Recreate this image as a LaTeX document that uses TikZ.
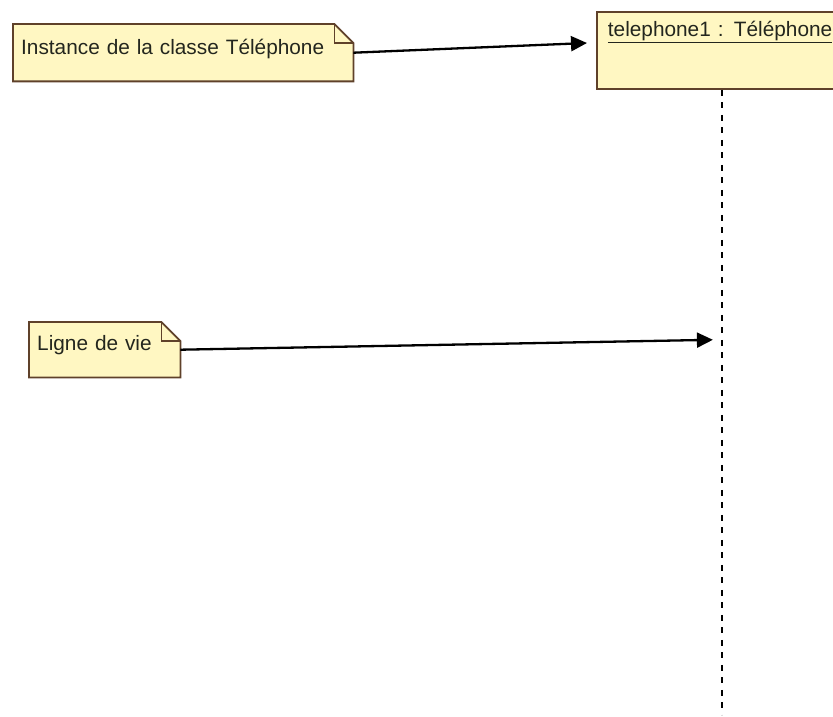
\documentclass[tikz,border=0pt]{standalone}
\usepackage{fontspec}
\setmainfont{Liberation Sans}
\usetikzlibrary{arrows.meta}
\usetikzlibrary{backgrounds}

\definecolor{noteyellow}{RGB}{255,247,194}
\definecolor{notebrown}{RGB}{95,65,42}
\definecolor{notetext}{RGB}{35,38,30}

\tikzset{
  notebox/.style={inner ysep=0pt, inner xsep=8pt, anchor=north west, align=left,
    text=notetext, font=\fontsize{20.8}{24}\selectfont},
  notepaper/.style={fill=noteyellow, draw=notebrown, line width=1.8pt, line join=miter},
  objbox/.style={notebox, inner xsep=11pt, fill=noteyellow, draw=notebrown, line width=1.8pt},
  lifeline/.style={line width=2.2pt, dash pattern=on 6pt off 6.5pt},
  link/.style={line width=2.3pt, -{Triangle[length=16pt,width=15pt]}},
}

\begin{document}
\begin{tikzpicture}[x=1pt,y=-1pt]
  \useasboundingbox (0,0) rectangle (833,717);
  \clip (0,0) rectangle (833,717);

  % notes
  \node[notebox, text width=324pt, minimum height=57pt, text height=15pt, text depth=12pt]
    (inst) at (13,24) {Instance de la classe Téléphone};
  \node[notebox, text width=135pt, minimum height=55pt, text height=15pt, text depth=14pt]
    (life) at (29,322) {Ligne de vie};
  \begin{scope}[on background layer]
    \foreach \n in {inst,life} {
      \filldraw[notepaper] (\n.north west) -- ([xshift=-19pt]\n.north east)
        -- ([yshift=-19pt]\n.north east) -- (\n.south east) -- (\n.south west) -- cycle;
      \draw[notepaper, fill=none] ([xshift=-19pt]\n.north east) |- ([yshift=-19pt]\n.north east);
    }
  \end{scope}

  % object and its lifeline
  \node[objbox, text width=228pt, minimum height=77pt, text height=15pt, text depth=43pt]
    (obj) at (596,11) {\underline{telephone1 : Téléphone}};
  \coordinate (end) at ([yshift=-625pt]obj.south);
  \draw[lifeline] (obj.south) -- (end);

  % links
  \draw[link] (inst.east) -- ([shift={(-9,32)}]obj.north west);
  \draw[link] (life.east) -- ([shift={(-9,250)}]obj.south);
\end{tikzpicture}
\end{document}
